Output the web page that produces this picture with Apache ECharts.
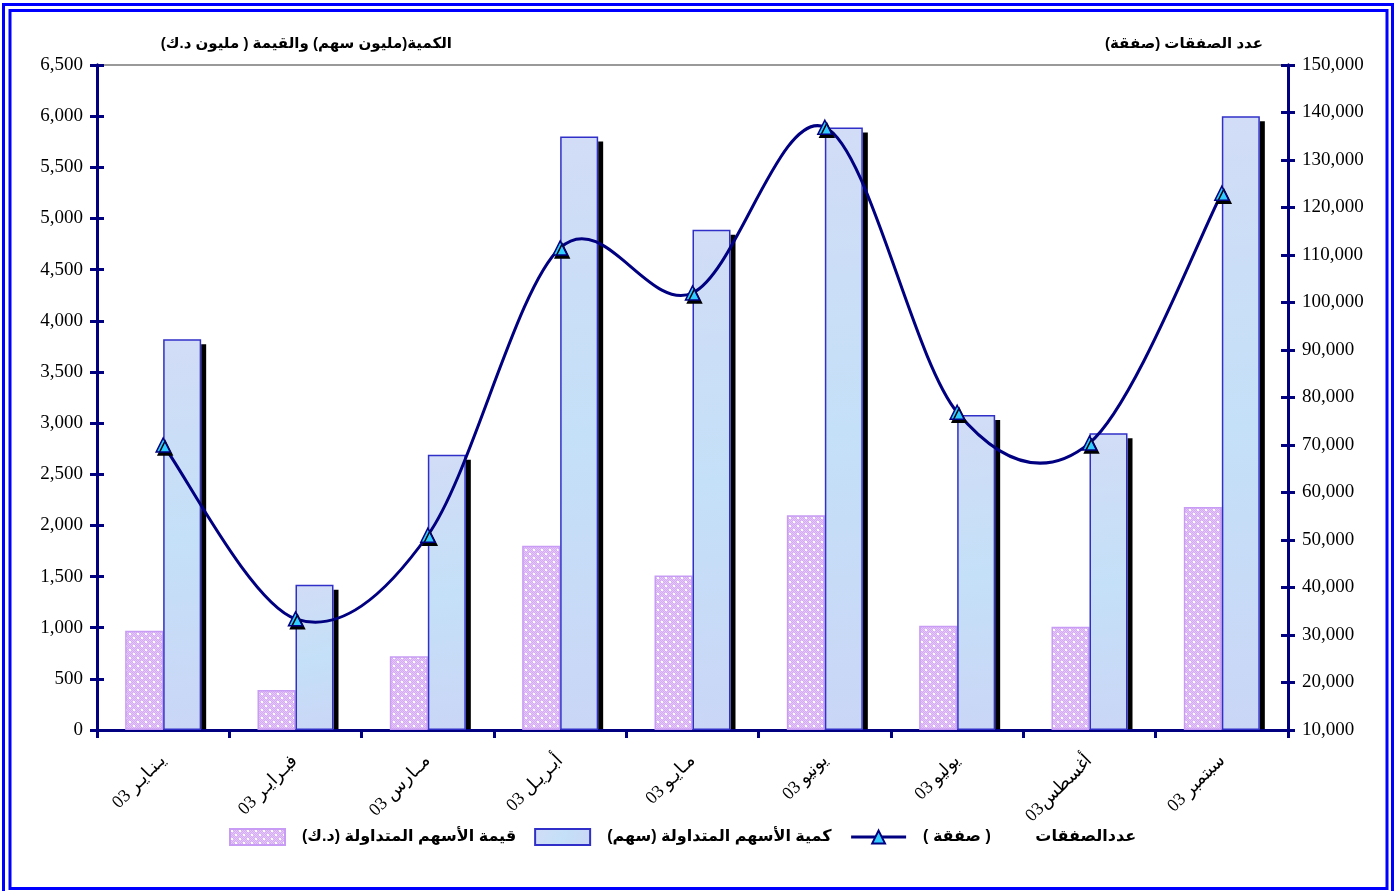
<!DOCTYPE html>
<html>
<head>
<meta charset="utf-8">
<script src="https://cdn.jsdelivr.net/npm/echarts@6/dist/echarts.min.js"></script>
<style>
  html, body { margin: 0; padding: 0; background: #fff; }
  #chart { width: 1397px; height: 891px; direction: rtl; }
</style>
</head>
<body>
<div id="chart"></div>
<script>
// الأشهر
const months = ['يـنـايـر 03', 'فبـرايـر 03', 'مــارس 03', 'أبـريـل 03', 'مـايـو 03', 'يونيو 03', 'يوليو 03', 'أغسطس03', 'سبتمبر 03']

// قيمة الأسهم المتداولة (مليون د.ك)
const tradedValue = [970, 390, 720, 1800, 1510, 2100, 1020, 1010, 2180]
// كمية الأسهم المتداولة (مليون سهم)
const tradedVolume = [3820, 1420, 2690, 5800, 4890, 5890, 3080, 2900, 6000]
// عدد الصفقات
const dealCount = [70000, 33400, 51000, 111500, 102000, 136900, 76900, 70400, 123000]

const seriesNames = ['قيمة الأسهم المتداولة (د.ك)', 'كمية الأسهم المتداولة (سهم)', 'عددالصفقات          ( صفقة )']
const leftTitle = 'الكمية(مليون سهم) والقيمة ( مليون د.ك)'
const rightTitle = 'عدد الصفقات (صفقة)'

const navy = '#000080'
const numFont = '"Liberation Serif", "DejaVu Serif", serif'
const arFont = '"Liberation Sans", "DejaVu Sans", sans-serif'

// نقش الأعمدة الوردية
const makeDots = () => {
  const c = document.createElement('canvas')
  c.width = 8
  c.height = 8
  const g = c.getContext('2d')
  g.fillStyle = '#e6c6fa'
  g.fillRect(0, 0, 8, 8)
  g.fillStyle = '#d4acf0'
  for (let y = 0; y < 8; y++) {
    for (let x = 0; x < 8; x++) {
      if ((x + y) % 2 === 0) g.fillRect(x, y, 1, 1)
    }
  }
  g.fillStyle = '#ffffff'
  g.fillRect(1, 1, 2, 2)
  g.fillRect(5, 5, 2, 2)
  return c
}

// منحنى ناعم (Catmull-Rom) يمر بالنقاط
const smoothPath = (pts) => {
  let d = 'M' + pts[0][0] + ' ' + pts[0][1]
  for (let i = 0; i < pts.length - 1; i++) {
    const p0 = pts[Math.max(i - 1, 0)]
    const p1 = pts[i]
    const p2 = pts[i + 1]
    const p3 = pts[Math.min(i + 2, pts.length - 1)]
    const c1x = p1[0] + (p2[0] - p0[0]) / 6
    const c1y = p1[1] + (p2[1] - p0[1]) / 6
    const c2x = p2[0] - (p3[0] - p1[0]) / 6
    const c2y = p2[1] - (p3[1] - p1[1]) / 6
    d += ' C' + c1x + ' ' + c1y + ' ' + c2x + ' ' + c2y + ' ' + p2[0] + ' ' + p2[1]
  }
  return d
}

const chart = echarts.init(document.getElementById('chart'))

const yBase = {
  type: 'value',
  axisLine: { show: true, lineStyle: { color: navy, width: 3 } },
  splitLine: { show: false }
}

const labelStyle = {
  fontFamily: numFont, fontSize: 19, color: '#000', margin: 14,
  formatter: v => v.toLocaleString('en-US')
}

chart.setOption({
  animation: false,
  grid: {
    left: 97, right: 109, top: 65, bottom: 161,
    show: true, borderColor: '#999', borderWidth: 2, backgroundColor: 'transparent'
  },
  graphic: [
    { type: 'rect', shape: { x: 3.5, y: 4.5, width: 1389, height: 900 }, style: { fill: 'none', stroke: '#0000ff', lineWidth: 3 } },
    { type: 'rect', shape: { x: 10, y: 10.5, width: 1377, height: 878 }, style: { fill: 'none', stroke: '#0000ff', lineWidth: 3 } },
    { type: 'text', right: 1397 - 452, top: 36, style: { text: leftTitle, font: 'bold 15px ' + arFont, fill: '#000' } },
    { type: 'text', right: 1397 - 1263, top: 36, style: { text: rightTitle, font: 'bold 15px ' + arFont, fill: '#000' } }
  ],
  legend: {
    left: 224,
    top: 823,
    itemWidth: 55,
    itemHeight: 16,
    itemGap: 18,
    data: [
      { name: seriesNames[0], icon: 'rect' },
      { name: seriesNames[1], icon: 'rect' },
      { name: seriesNames[2], lineStyle: { color: navy, width: 3, opacity: 1 } }
    ],
    textStyle: { fontFamily: arFont, fontWeight: 'bold', fontSize: 16, color: '#000', padding: [0, 0, 0, 12] }
  },
  xAxis: {
    type: 'category',
    data: months,
    axisLine: { lineStyle: { color: navy, width: 3 } },
    axisTick: { show: true, length: 8, lineStyle: { color: navy, width: 3 } },
    axisLabel: {
      rotate: 45,
      margin: 28,
      fontFamily: numFont,
      fontSize: 18,
      color: '#000',
      interval: 0
    }
  },
  yAxis: [
    {
      ...yBase,
      position: 'left',
      min: 0, max: 6500, interval: 500,
      axisTick: { show: true, length: 7, lineStyle: { color: navy, width: 3 } },
      axisLabel: labelStyle
    },
    {
      ...yBase,
      position: 'right',
      min: 10000, max: 150000, interval: 10000,
      axisTick: { show: true, length: 7, lineStyle: { color: navy, width: 3 } },
      axisLabel: labelStyle
    },
    {
      ...yBase,
      position: 'left',
      min: 0, max: 6500, interval: 500,
      axisTick: { show: true, inside: true, length: 7, lineStyle: { color: navy, width: 3 } },
      axisLabel: { show: false }
    },
    {
      ...yBase,
      position: 'right',
      min: 10000, max: 150000, interval: 10000,
      axisTick: { show: true, inside: true, length: 7, lineStyle: { color: navy, width: 3 } },
      axisLabel: { show: false }
    }
  ],
  series: [
    {
      name: seriesNames[0],
      type: 'bar',
      yAxisIndex: 0,
      data: tradedValue,
      barWidth: 38,
      barGap: '0%',
      itemStyle: {
        color: { image: makeDots(), repeat: 'repeat' },
        borderColor: '#c89cf4',
        borderWidth: 1.5
      }
    },
    {
      name: seriesNames[1],
      type: 'bar',
      yAxisIndex: 0,
      data: tradedVolume,
      barWidth: 38,
      itemStyle: {
        color: {
          type: 'linear', x: 0, y: 0, x2: 1, y2: 1,
          colorStops: [
            { offset: 0, color: '#d2dcf6' },
            { offset: 0.5, color: '#c4e0f8' },
            { offset: 1, color: '#cad6f6' }
          ]
        },
        borderColor: '#3030c8',
        borderWidth: 1.5
      },
      z: 3
    },
    {
      // ظل الأعمدة الزرقاء
      type: 'custom',
      yAxisIndex: 0,
      data: tradedVolume.map((v, i) => [i, v]),
      z: 2,
      silent: true,
      renderItem: (params, api) => {
        const top = api.coord([api.value(0), api.value(1)])
        const base = api.coord([api.value(0), 0])
        return {
          type: 'rect',
          shape: { x: top[0] + 38, y: top[1] + 5, width: 5, height: base[1] - top[1] - 6 },
          style: { fill: '#000' }
        }
      }
    },
    {
      // خط عدد الصفقات
      type: 'custom',
      yAxisIndex: 1,
      data: dealCount.map((v, i) => [i, v]),
      z: 4,
      silent: true,
      renderItem: (params, api) => {
        if (params.dataIndex !== 0) return null
        const pts = dealCount.map((v, i) => api.coord([i, v]))
        return {
          type: 'path',
          shape: { pathData: smoothPath(pts) },
          style: { fill: 'none', stroke: navy, lineWidth: 3 }
        }
      }
    },
    {
      name: seriesNames[2],
      type: 'line',
      yAxisIndex: 1,
      data: dealCount,
      symbol: 'triangle',
      symbolSize: 14,
      lineStyle: { color: navy, width: 3, opacity: 0 },
      itemStyle: {
        color: '#33ccff', borderColor: navy, borderWidth: 1.5,
        shadowColor: '#000', shadowOffsetX: 2, shadowOffsetY: 3, shadowBlur: 0
      },
      z: 5
    }
  ]
})
</script>
</body>
</html>
